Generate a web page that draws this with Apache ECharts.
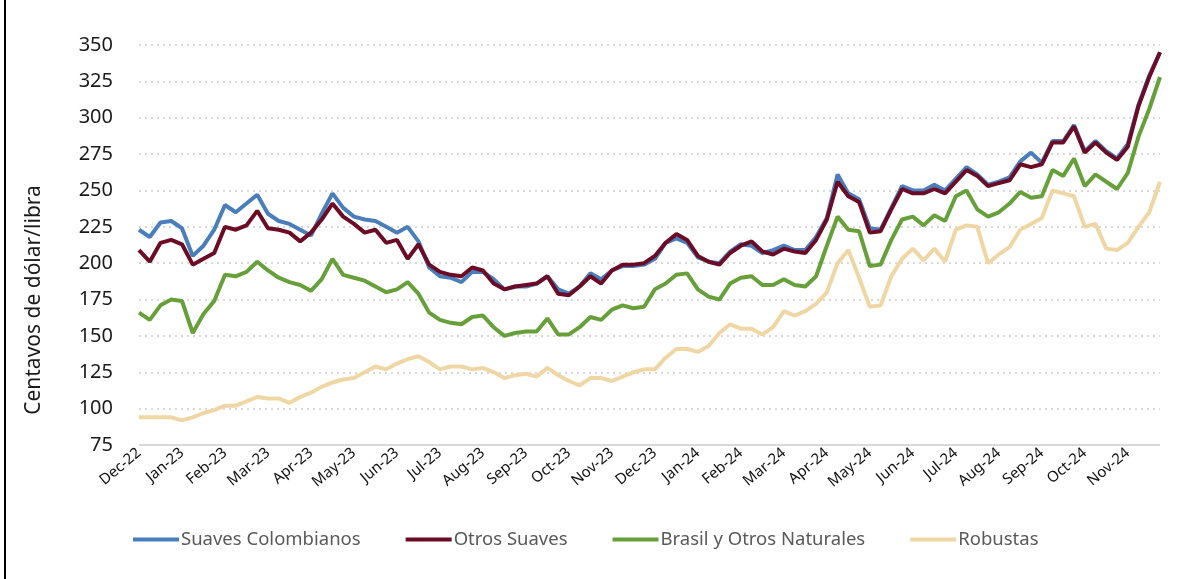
<!DOCTYPE html>
<html>
<head>
<meta charset="utf-8">
<title>Precios indicativos del café</title>
<script src="https://cdn.jsdelivr.net/npm/echarts@6/dist/echarts.min.js"></script>
<style>
  html, body { margin: 0; padding: 0; background: #fff; }
  #chart { width: 1197px; height: 579px; }
</style>
</head>
<body>
<div id="chart"></div>
<script>
// month labels, one per axis tick
const months = ['Dec-22', 'Jan-23', 'Feb-23', 'Mar-23', 'Apr-23', 'May-23', 'Jun-23', 'Jul-23',
  'Aug-23', 'Sep-23', 'Oct-23', 'Nov-23', 'Dec-23', 'Jan-24', 'Feb-24', 'Mar-24', 'Apr-24',
  'May-24', 'Jun-24', 'Jul-24', 'Aug-24', 'Sep-24', 'Oct-24', 'Nov-24'];

// values, about one per week (quarter month)
const STEP = 0.25;

const suavesColombianos = [
  223, 218, 228, 229, 224, 205, 212, 223, 240, 235, 241, 247, 234, 229, 227, 223,
  219, 234, 248, 238, 232, 230, 229, 225, 221, 225, 215, 197, 191, 190, 187, 194,
  194, 189, 182, 184, 184, 186, 191, 182, 179, 184, 193, 189, 195, 198, 198, 199,
  203, 214, 217, 214, 204, 201, 200, 208, 213, 212, 207, 209, 212, 209, 209, 218,
  231, 261, 248, 244, 224, 223, 238, 253, 250, 250, 254, 250, 258, 266, 261, 254,
  256, 259, 270, 276, 269, 284, 284, 295, 277, 284, 277, 272, 282, 309, 329, 345
];

const otrosSuaves = [
  209, 201, 214, 216, 213, 199, 203, 207, 225, 223, 226, 236, 224, 223, 221, 215,
  221, 230, 241, 232, 227, 221, 223, 214, 216, 203, 213, 199, 194, 192, 191, 197,
  195, 186, 182, 184, 185, 186, 191, 179, 178, 184, 191, 186, 195, 199, 199, 200,
  205, 214, 220, 216, 205, 201, 199, 207, 212, 215, 208, 206, 210, 208, 207, 216,
  230, 256, 246, 242, 221, 222, 237, 251, 248, 248, 251, 248, 256, 264, 260, 253,
  255, 257, 268, 266, 268, 283, 283, 294, 276, 283, 276, 271, 280, 308, 328, 345
];

const brasilNaturales = [
  166, 161, 171, 175, 174, 152, 165, 174, 192, 191, 194, 201, 195, 190, 187, 185,
  181, 189, 203, 192, 190, 188, 184, 180, 182, 187, 179, 166, 161, 159, 158, 163,
  164, 156, 150, 152, 153, 153, 162, 151, 151, 156, 163, 161, 168, 171, 169, 170,
  182, 186, 192, 193, 182, 177, 175, 186, 190, 191, 185, 185, 189, 185, 184, 191,
  212, 232, 223, 222, 198, 199, 216, 230, 232, 226, 233, 229, 246, 250, 237, 232,
  235, 241, 249, 245, 246, 264, 260, 272, 253, 261, 256, 251, 262, 287, 306, 328
];

const robustas = [
  94, 94, 94, 94, 92, 94, 97, 99, 102, 102, 105, 108, 107, 107, 104, 108,
  111, 115, 118, 120, 121, 125, 129, 127, 131, 134, 136, 132, 127, 129, 129, 127,
  128, 125, 121, 123, 124, 122, 128, 123, 119, 116, 121, 121, 119, 122, 125, 127,
  127, 135, 141, 141, 139, 143, 152, 158, 155, 155, 151, 156, 167, 164, 167, 172,
  180, 200, 209, 190, 170, 171, 191, 203, 210, 202, 210, 201, 223, 226, 225, 200,
  206, 211, 223, 227, 231, 250, 248, 246, 225, 227, 210, 209, 214, 225, 235, 256
];

const seriesDefs = [
  { name: 'Suaves Colombianos', values: suavesColombianos, color: '#4a7ebb' },
  { name: 'Otros Suaves', values: otrosSuaves, color: '#6b0b25' },
  { name: 'Brasil y Otros Naturales', values: brasilNaturales, color: '#67a03a' },
  { name: 'Robustas', values: robustas, color: '#efd7a5' }
];

const toPoints = (vals) => vals.map((v, i) => [i * STEP, v]);

const myChart = echarts.init(document.getElementById('chart'), null, { renderer: 'canvas' });

myChart.setOption({
  animation: false,
  backgroundColor: '#fff',
  grid: { left: 139, right: 37, top: 45, bottom: 134, containLabel: false },
  graphic: [
    {
      type: 'line',
      shape: { x1: 5, y1: 0, x2: 5, y2: 579 },
      style: { stroke: '#000', lineWidth: 2 }
    },
    {
      type: 'text',
      x: 34, y: 300,
      rotation: Math.PI / 2,
      style: {
        text: 'Centavos de dólar/libra',
        font: '21px "Noto Sans"',
        fill: '#1a1a1a',
        align: 'center',
        verticalAlign: 'middle'
      }
    }
  ],
  legend: {
    left: 128,
    top: 525,
    icon: 'rect',
    itemWidth: 46,
    itemHeight: 4,
    itemGap: 45,
    textStyle: {
      fontFamily: 'Noto Sans',
      fontSize: 18.5,
      color: '#595959',
      padding: [0, 0, 0, -3]
    },
    data: seriesDefs.map(s => s.name)
  },
  xAxis: {
    type: 'value',
    min: 0,
    max: (suavesColombianos.length - 1) * STEP,
    interval: 1,
    axisLine: { show: false },
    axisTick: { show: false },
    splitLine: { show: false },
    axisLabel: {
      rotate: 40,
      margin: 6,
      fontFamily: 'Noto Sans',
      fontSize: 15,
      color: '#111',
      showMaxLabel: false,
      formatter: (v) => (Number.isInteger(v) && months[v]) ? months[v] : ''
    }
  },
  yAxis: {
    type: 'value',
    min: 75,
    max: 350,
    interval: 25,
    axisLine: { show: false },
    axisTick: { show: false },
    axisLabel: {
      margin: 26,
      fontFamily: 'Noto Sans',
      fontSize: 20,
      color: '#1a1a1a'
    },
    splitLine: {
      show: true,
      lineStyle: {
        color: '#d9d9d9',
        width: 2,
        type: [2, 4]
      }
    }
  },
  series: seriesDefs.map(s => ({
    name: s.name,
    type: 'line',
    data: toPoints(s.values),
    showSymbol: false,
    symbol: 'none',
    color: s.color,
    lineStyle: { color: s.color, width: 4 }
  })).concat([{
    // solid baseline at 75
    type: 'line',
    data: [],
    markLine: {
      silent: true,
      symbol: 'none',
      label: { show: false },
      lineStyle: { color: '#d9d9d9', type: 'solid', width: 2 },
      data: [{ yAxis: 75 }]
    }
  }])
});
</script>
</body>
</html>
